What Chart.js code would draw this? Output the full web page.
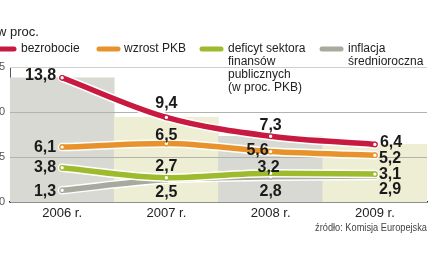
<!DOCTYPE html>
<html>
<head>
<meta charset="utf-8">
<script src="https://cdn.jsdelivr.net/npm/chart.js@4/dist/chart.umd.min.js"></script>
<style>
    html, body { margin: 0; padding: 0; background: #fff; }
    #wrap { width: 439px; height: 268px; position: relative; }
</style>
</head>
<body>
<div id="wrap"><canvas id="chart" width="439" height="268"></canvas></div>
<script>
// values (in percent)
const years = ['2006 r.', '2007 r.', '2008 r.', '2009 r.'];
const bezrobocie = [13.8, 9.4, 7.3, 6.4];
const wzrostPKB = [6.1, 6.5, 5.6, 5.2];
const deficyt = [3.8, 2.7, 3.2, 3.1];
const inflacja = [1.3, 2.5, 2.8, 2.9];
const yTicks = [0, 5, 10, 15];

const FONT = "'Liberation Sans', Arial, sans-serif";

// label placement per point: [dx, dy, align]
const series = [
    { name: 'inflacja', data: inflacja, color: '#a9aa9f',
      labels: [[-6, 1, 'right'], [0, 13, 'center'], [0, 15, 'center'], [4, 14, 'left']] },
    { name: 'deficyt', data: deficyt, color: '#9dbb2c',
      labels: [[-6, 0, 'right'], [0, -11, 'center'], [-2, -6, 'center'], [4, 0, 'left']] },
    { name: 'wzrost', data: wzrostPKB, color: '#e8922b',
      labels: [[-6, 0, 'right'], [0, -8, 'center'], [-2, -1, 'right'], [4, 3, 'left']] },
    { name: 'bezrobocie', data: bezrobocie, color: '#c81a40',
      labels: [[-6, -2, 'right'], [0, -14, 'center'], [0, -11, 'center'], [5, -2, 'left']] }
];

const datasets = [{
    type: 'bar',
    data: bezrobocie,
    backgroundColor: ['#d9d9d3', '#eeeed4', '#d9d9d3', '#eeeed4'],
    borderWidth: 0,
    barPercentage: 1,
    categoryPercentage: 1,
    order: 20
}];

series.forEach((s, i) => {
    const base = 9 - i * 2;
    // white outline under the coloured line
    datasets.push({
        type: 'line', data: s.data, borderColor: '#ffffff', borderWidth: 8.5,
        borderCapStyle: 'round', pointRadius: 0, cubicInterpolationMode: 'monotone',
        order: base
    });
    datasets.push({
        type: 'line', data: s.data, borderColor: s.color, borderWidth: 5.5,
        borderCapStyle: 'round', cubicInterpolationMode: 'monotone',
        pointRadius: 2.3, pointBackgroundColor: '#ffffff',
        pointBorderColor: s.color, pointBorderWidth: 1.2,
        order: base - 1, labelInfo: s
    });
});

const gridPlugin = {
    id: 'gridOver',
    afterDatasetDraw(chart, args) {
        if (args.meta.type !== 'bar') return;
        const ctx = chart.ctx;
        const y = chart.scales.y;
        const area = chart.chartArea;
        ctx.save();
        yTicks.slice(1).forEach(v => {
            const py = Math.round(y.getPixelForValue(v)) + 0.5;
            ctx.strokeStyle = v === 15 ? '#cfcfcb' : '#b3b3ab';
            ctx.lineWidth = 1;
            ctx.beginPath();
            ctx.moveTo(area.left, py);
            ctx.lineTo(area.right, py);
            ctx.stroke();
        });
        ctx.restore();
    }
};

const labelPlugin = {
    id: 'valueLabels',
    afterDatasetsDraw(chart) {
        const ctx = chart.ctx;
        ctx.save();
        ctx.font = 'bold 16px ' + FONT;
        ctx.fillStyle = '#1a1a1a';
        ctx.textBaseline = 'middle';
        chart.data.datasets.forEach((ds, di) => {
            if (!ds.labelInfo) return;
            const meta = chart.getDatasetMeta(di);
            meta.data.forEach((pt, i) => {
                const p = ds.labelInfo.labels[i];
                ctx.textAlign = p[2];
                ctx.fillText(String(ds.data[i]).replace('.', ','), pt.x + p[0], pt.y + p[1]);
            });
        });
        ctx.restore();
    }
};

const legendPlugin = {
    id: 'legendText',
    afterDraw(chart) {
        const ctx = chart.ctx;
        ctx.save();
        ctx.fillStyle = '#222';
        ctx.textBaseline = 'middle';
        ctx.textAlign = 'left';
        ctx.font = '13px ' + FONT;
        ctx.fillText('w proc.', -3, 32);

        ctx.font = '12px ' + FONT;
        const items = [
            { color: '#c81a40', x1: -4, x2: 14, tx: 21, lines: ['bezrobocie'] },
            { color: '#e8922b', x1: 99, x2: 118, tx: 124, lines: ['wzrost PKB'] },
            { color: '#9dbb2c', x1: 202, x2: 221, tx: 228,
              lines: ['deficyt sektora', 'finansów', 'publicznych', '(w proc. PKB)'] },
            { color: '#a9aa9f', x1: 322, x2: 341, tx: 348, lines: ['inflacja', 'średnioroczna'] }
        ];
        items.forEach(it => {
            ctx.strokeStyle = it.color;
            ctx.lineWidth = 5;
            ctx.lineCap = 'round';
            ctx.beginPath();
            ctx.moveTo(it.x1, 49);
            ctx.lineTo(it.x2, 49);
            ctx.stroke();
            it.lines.forEach((t, k) => ctx.fillText(t, it.tx, 49 + k * 13));
        });

        // source note, condensed
        ctx.font = '11px ' + FONT;
        ctx.fillStyle = '#444';
        ctx.textAlign = 'right';
        ctx.translate(427, 228);
        ctx.scale(0.84, 1);
        ctx.fillText('źródło: Komisja Europejska', 0, 0);
        ctx.restore();
    }
};

new Chart(document.getElementById('chart'), {
    data: { labels: years, datasets: datasets },
    options: {
        responsive: false,
        animation: false,
        layout: { padding: { top: 67, right: 12, left: 0, bottom: 0 } },
        plugins: { legend: { display: false }, tooltip: { enabled: false } },
        scales: {
            x: {
                offset: true,
                grid: { display: false, drawTicks: false },
                border: { display: true, color: '#222', width: 1.5 },
                ticks: { color: '#222', font: { family: FONT, size: 13 }, padding: 4 },
                afterFit: s => { s.height = 66; }
            },
            y: {
                min: 0,
                max: 15,
                afterBuildTicks: s => { s.ticks = yTicks.map(v => ({ value: v })); },
                grid: { display: false, drawTicks: false },
                border: { display: true, color: '#555', width: 1 },
                ticks: { color: '#555', font: { family: FONT, size: 11 }, padding: 5 },
                afterFit: s => { s.width = 10; }
            }
        }
    },
    plugins: [gridPlugin, labelPlugin, legendPlugin]
});
</script>
</body>
</html>
